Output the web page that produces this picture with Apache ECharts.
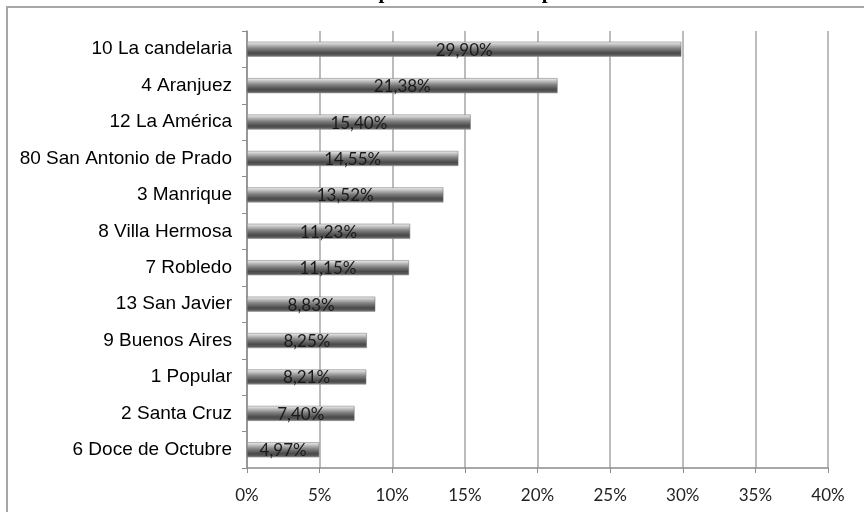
<!DOCTYPE html>
<html>
<head>
<meta charset="utf-8">
<script src="https://cdn.jsdelivr.net/npm/echarts@6/dist/echarts.min.js"></script>
<style>
    html, body { margin: 0; padding: 0; background: #fff; }
    #chart { width: 864px; height: 512px; }
</style>
</head>
<body>
<div id="chart"></div>
<script>
// comunas, de arriba hacia abajo
const comunas = [
    '10 La candelaria', '4 Aranjuez', '12 La América', '80 San Antonio de Prado',
    '3 Manrique', '8 Villa Hermosa', '7 Robledo', '13 San Javier',
    '9 Buenos Aires', '1 Popular', '2 Santa Cruz', '6 Doce de Octubre'
]
// porcentaje por comuna
const porcentajes = [29.90, 21.38, 15.40, 14.55, 13.52, 11.23, 11.15, 8.83, 8.25, 8.21, 7.40, 4.97]
const tituloTexto = 'Tabla 4. Distribución de población urbana por comunas'

const chart = echarts.init(document.getElementById('chart'))

// degradado gris tipo Excel 3D
const barColor = new echarts.graphic.LinearGradient(0, 0, 0, 1, [
    { offset: 0, color: '#f2f2f2' },
    { offset: 0.18, color: '#c4c4c4' },
    { offset: 0.45, color: '#808080' },
    { offset: 0.75, color: '#4a4a4a' },
    { offset: 0.9, color: '#5a5a5a' },
    { offset: 1, color: '#a0a0a0' }
])

const option = {
    animation: false,
    backgroundColor: '#fff',
    graphic: [
        {
            type: 'rect',
            shape: { x: 7, y: 7, width: 900, height: 600 },
            style: { fill: 'none', stroke: '#a6a6a6', lineWidth: 2 },
            silent: true
        },
        {
            type: 'text',
            x: 408,
            y: 3,
            style: {
                text: tituloTexto,
                font: 'bold 21px "Liberation Serif", serif',
                fill: '#000',
                align: 'center',
                verticalAlign: 'bottom'
            },
            silent: true
        }
    ],
    grid: {
        left: 247,
        top: 31,
        right: 36,
        bottom: 44
    },
    xAxis: {
        type: 'value',
        min: 0,
        max: 40,
        interval: 5,
        axisLine: { show: true, lineStyle: { color: '#8c8c8c', width: 1.5 } },
        axisTick: { show: true, length: 5, lineStyle: { color: '#8c8c8c' } },
        splitLine: { show: true, lineStyle: { color: '#a6a6a6', width: 1.5 } },
        axisLabel: {
            formatter: '{value}%',
            margin: 19,
            fontSize: 17,
            fontFamily: 'Lato, "Open Sans", sans-serif',
            color: '#222'
        }
    },
    yAxis: {
        type: 'category',
        inverse: true,
        data: comunas,
        axisLine: { show: true, lineStyle: { color: '#8c8c8c', width: 1.5 } },
        axisTick: { show: true, length: 5, lineStyle: { color: '#8c8c8c' } },
        axisLabel: {
            margin: 15,
            fontSize: 19,
            fontFamily: '"Liberation Sans", Arial, sans-serif',
            color: '#000'
        }
    },
    series: [
        {
            type: 'bar',
            data: porcentajes,
            barWidth: 15,
            itemStyle: {
                color: barColor,
                borderColor: '#6e6e6e',
                borderWidth: 0.5
            },
            label: {
                show: true,
                position: 'inside',
                offset: [0, 1],
                formatter: p => p.value.toFixed(2).replace('.', ',') + '%',
                fontSize: 17,
                fontFamily: 'Lato, "Open Sans", sans-serif',
                color: '#1a1a1a'
            }
        }
    ]
}

chart.setOption(option)
</script>
</body>
</html>
